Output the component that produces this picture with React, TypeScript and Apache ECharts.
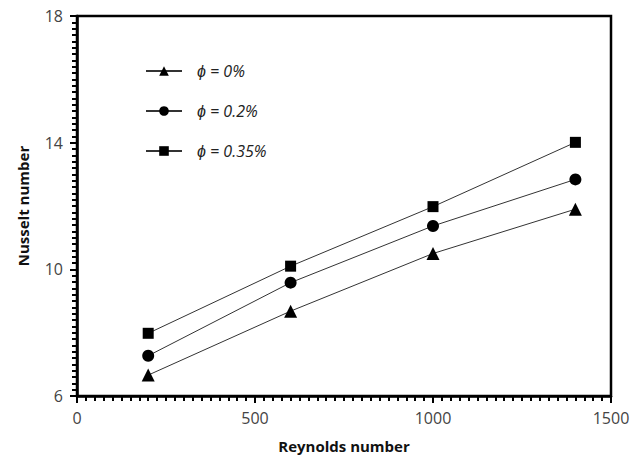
import React, { useEffect, useRef } from "react";
import * as echarts from "echarts";

const reynolds = [200, 600, 1000, 1400];
const nu0 = [6.66, 8.68, 10.5, 11.9];
const nu02 = [7.27, 9.58, 11.37, 12.84];
const nu035 = [7.98, 10.1, 11.98, 14.01];
const seriesNames = ["ϕ = 0%", "ϕ = 0.2%", "ϕ = 0.35%"];

export default function App() {
  const ref = useRef<HTMLDivElement>(null);
  useEffect(() => {
    if (!ref.current) return;
    const chart = echarts.init(ref.current, undefined, { renderer: "svg" });
    const mk = (name: string, vals: number[], symbol: string, size: number) => ({
      name,
      type: "line",
      data: reynolds.map((r, i) => [r, vals[i]]),
      symbol,
      symbolSize: size,
      showAllSymbol: true,
      lineStyle: { color: "#333", width: 1 },
      itemStyle: { color: "#000" },
    });
    const font = "Open Sans, Liberation Sans, sans-serif";
    const axisCommon = {
      type: "value",
      nameLocation: "middle",
      nameTextStyle: { fontWeight: "bold", fontSize: 15, color: "#111", fontFamily: font },
      axisLine: { show: true, lineStyle: { color: "#000", width: 2.5 } },
      axisTick: { show: true, inside: false, length: 7, lineStyle: { color: "#000", width: 2 } },
      minorTick: { show: true, splitNumber: 20, length: 5, lineStyle: { color: "#000", width: 2 } },
      splitLine: { show: false },
      minorSplitLine: { show: false },
      axisLabel: { fontSize: 16, color: "#444", margin: 14, fontFamily: font, formatter: (v: number) => String(v) },
    };
    chart.setOption({
      animation: false,
      backgroundColor: "#fff",
      grid: { left: 77, right: 31, top: 16, bottom: 66, show: true, borderColor: "#000", borderWidth: 2.5 },
      legend: {
        orient: "vertical",
        left: 140,
        top: 58,
        itemGap: 24,
        itemWidth: 36,
        itemHeight: 12,
        textStyle: { fontStyle: "italic", fontSize: 16, color: "#222", fontFamily: font, padding: [0, 0, 0, 10] },
        data: seriesNames,
      },
      xAxis: {
        ...axisCommon,
        min: 0,
        max: 1500,
        interval: 500,
        name: "Reynolds number",
        nameGap: 42,
      },
      yAxis: {
        ...axisCommon,
        min: 6,
        max: 18,
        interval: 4,
        name: "Nusselt number",
        nameGap: 47,
      },
      series: [
        mk(seriesNames[0], nu0, "triangle", 13),
        mk(seriesNames[1], nu02, "circle", 12),
        mk(seriesNames[2], nu035, "rect", 11),
      ],
    });
    return () => chart.dispose();
  }, []);
  return <div ref={ref} style={{ width: 642, height: 462, position: "absolute", left: 0, top: 0 }} />;
}
